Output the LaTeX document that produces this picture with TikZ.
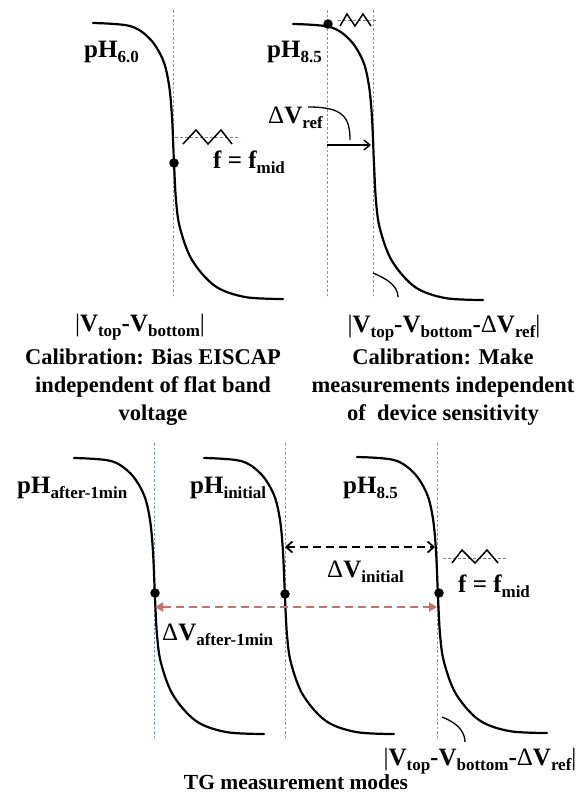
\documentclass[tikz,border=0pt]{standalone}
\usepackage{fontspec}
\setmainfont{Liberation Serif}
\usetikzlibrary{arrows.meta, positioning}
\definecolor{guideblue}{RGB}{120,150,195}
\definecolor{deltared}{RGB}{205,110,110}
\newcommand{\lsub}[1]{\raisebox{-0.45ex}{\fontsize{17}{17}\selectfont #1}}

\begin{document}
\begin{tikzpicture}[x=1pt, y=-1pt,
    curve/.style={line width=2.2pt, line cap=round},
    guide/.style={guideblue, line width=0.9pt, dash pattern=on 2.5pt off 2pt},
    dot/.style={circle, fill=black, inner sep=0pt, minimum size=9.5pt},
    lbl/.style={inner sep=0pt, font=\fontsize{25}{25}\selectfont\bfseries},
    caption/.style={inner sep=0pt, align=center, font=\fontsize{22.5}{28}\selectfont\bfseries},
    wave/.style={line width=1.5pt},
    level/.style={gray, line width=0.8pt, dash pattern=on 3pt off 2pt},
    leader/.style={line width=1.3pt},
    vshift/.style={line width=1.4pt, -{Straight Barb[length=6pt,width=10pt]}},
    dimarrow/.style={line width=1.8pt, dash pattern=on 8pt off 5pt,
                     {Straight Barb[length=6pt,width=11pt]}-{Straight Barb[length=6pt,width=11pt]}},
    redarrow/.style={deltared, line width=2.6pt, dash pattern=on 8pt off 5pt,
                     {Triangle[length=8pt,width=9pt]}-{Triangle[length=8pt,width=9pt]}}
]
\useasboundingbox (0,0) rectangle (581,795);

% guide lines
\draw[guide] (173,10) -- (173,298);
\draw[guide] (327,10) -- (327,298);
\draw[guide] (373,10) -- (373,298);
\draw[guide] (154,443) -- (154,740);
\draw[guide] (285,443) -- (285,740);
\draw[guide] (437,443) -- (437,740);

% C-V curves
\foreach \dx/\dy in {0/0, 200/1, -19/435, 111/435, 264/434}
  \draw[curve, shift={(\dx,\dy)}] plot[smooth, tension=0.55] coordinates
    {(93,23) (130,26) (150,39) (163,60) (169,85) (172,117) (174,163) (176,200)
     (180,228) (192,260) (215,286) (245,297) (283,299)};

% operating points
\node[dot] (op1) at (174,163) {};
\node[dot] (op2) at (328,24) {};
\node[dot] (op3) at (155,593) {};
\node[dot] (op4) at (285,594) {};
\node[dot] (op5) at (439,593) {};

% small-signal waves
\draw[level] (175,137) -- (240,137);
\draw[wave] (183,144) -- (196,130) -- (208,144) -- (221,130) -- (232,144);
\draw[level] (338,20) -- (377,20);
\draw[wave] (340,26) -- (347,14) -- (355,26) -- (363,14) -- (371,26);
\draw[level] (443,558) -- (508,558);
\draw[wave] (452,563) -- (462,550) -- (475,563) -- (487,550) -- (498,563);

% top left panel
\node[lbl, anchor=base west] (ph60) at (84,57) {pH\lsub{6.0}};
\node[lbl, anchor=base west] (fmid1) at (213,168) {f = f\lsub{mid}};
\node[lbl, anchor=base] (vtb) at (140,331) {{\mdseries|}V\lsub{top}-V\lsub{bottom}{\mdseries|}};
\node[caption, anchor=north] (cal1) at (153,349) {Calibration: Bias EISCAP\\independent of flat band\\voltage};

% top right panel
\node[lbl, anchor=base west] (ph85a) at (267,57) {pH\lsub{8.5}};
\node[lbl, anchor=base west] (dvref) at (268,123) {{\mdseries Δ}V\lsub{ref}};
\draw[leader] (308,107) .. controls (342,107) and (350,116) .. (350,140);
\coordinate (refL) at (327,145);
\coordinate (refR) at (371,145);
\draw[vshift] (refL) -- (refR);
\draw[leader] (373,273) .. controls (385,278) and (398,285) .. (398,297);
\node[lbl, anchor=base] (vtbr1) at (444,332) {{\mdseries|}V\lsub{top}-V\lsub{bottom}-{\mdseries Δ}V\lsub{ref}{\mdseries|}};
\node[caption, anchor=north] (cal2) at (443,349) {Calibration: Make\\measurements independent\\of~ device sensitivity};

% bottom panel
\node[lbl, anchor=base west] (phafter) at (17,493) {pH\lsub{after-1min}};
\node[lbl, anchor=base west] (phinit) at (190,493) {pH\lsub{initial}};
\node[lbl, anchor=base west] (ph85b) at (343,493) {pH\lsub{8.5}};

\coordinate (iniL) at (285,547);
\coordinate (iniR) at (435,547);
\draw[dimarrow] (iniL) -- (iniR);
\node[lbl, anchor=base west] (dvinit) at (327,577) {{\mdseries Δ}V\lsub{initial}};
\node[lbl, anchor=base west] (fmid2) at (458,592) {f = f\lsub{mid}};

\coordinate (aftL) at (155,607);
\coordinate (aftR) at (437,607);
\draw[redarrow] (aftL) -- (aftR);
\node[lbl, anchor=base west] (dvafter) at (162,640) {{\mdseries Δ}V\lsub{after-1min}};

\draw[leader] (442,717) .. controls (455,722) and (465,730) .. (465,742);
\node[lbl, anchor=base] (vtbr2) at (480,765) {{\mdseries|}V\lsub{top}-V\lsub{bottom}-{\mdseries Δ}V\lsub{ref}{\mdseries|}};
\node[caption, anchor=base, font=\fontsize{21.5}{28}\selectfont\bfseries] (tgmodes) at (296,789) {TG measurement modes};
\end{tikzpicture}
\end{document}
